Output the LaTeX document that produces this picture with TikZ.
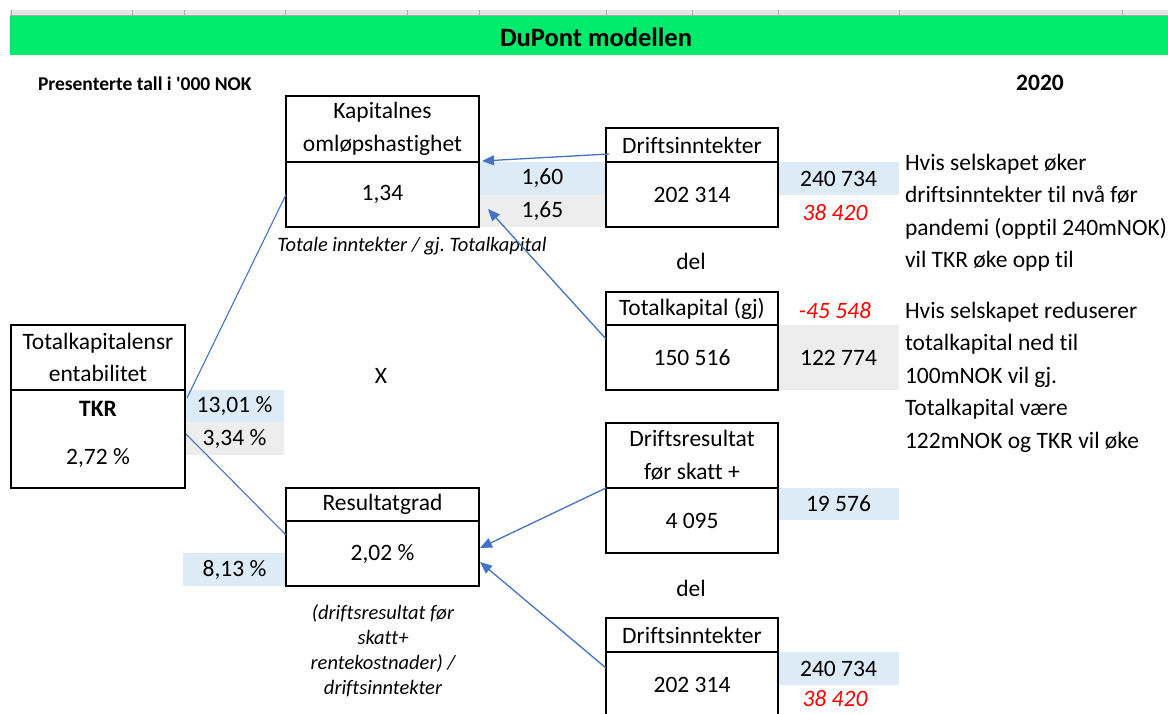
\documentclass[tikz,border=0pt]{standalone}
\usepackage{fontspec}
\setmainfont{Carlito}[Ligatures=NoCommon]
\usetikzlibrary{arrows.meta}
\definecolor{xgreen}{RGB}{0,234,108}
\definecolor{xblue}{RGB}{221,235,247}
\definecolor{xgray}{RGB}{237,237,237}
\definecolor{xarrow}{RGB}{68,114,196}
\definecolor{xred}{RGB}{255,0,0}
\definecolor{xhdr}{RGB}{228,228,228}
\definecolor{xtick}{RGB}{170,170,170}
\newcommand{\bodyfont}{\fontsize{23.5}{32.5}\selectfont}
\newcommand{\notefont}{\fontsize{20.5}{25}\selectfont\itshape}
\frenchspacing
\begin{document}
\begin{tikzpicture}[x=1pt,y=-1pt,
  every node/.style={font=\bodyfont, inner sep=0pt, outer sep=0pt, text=black},
  cellbox/.style={draw=black, line width=1.4pt, anchor=north west, align=center},
  band/.style={fill=#1, anchor=north west},
  rednum/.style={text=xred, font=\bodyfont\itshape},
  note/.style={font=\notefont, align=center},
  arr/.style={draw=xarrow, line width=1.3pt, -{Triangle[length=12pt,width=10pt]}},
  link/.style={draw=xarrow, line width=1.1pt}]
\useasboundingbox (0,0) rectangle (1168,713);
\clip (0,0) rectangle (1168,713);
\fill[white] (0,0) rectangle (1168,713);
% spreadsheet column header strip
\fill[xhdr] (10,10) rectangle (1168,15);
\draw[xtick, line width=0.8pt] (10,15) -- (1168,15);
\foreach \cx in {11,132,184,285,407,479,606,692,778,899,1122}
  \draw[xtick, line width=1pt] (\cx,10) -- (\cx,15);
% title band
\fill[xgreen] (10,15.5) rectangle (1168,54.5);
\node[font=\fontsize{26.5}{30}\selectfont\bfseries] (title) at (596,37) {DuPont modellen};
\node[font=\fontsize{19.5}{22}\selectfont\bfseries, anchor=west] (unit) at (38,84) {Presenterte tall i \textquotesingle000 NOK};
\node[font=\bodyfont\bfseries] (year) at (1040,83) {2020};

% coloured value cells
\node[band=xblue, minimum width=127pt, minimum height=33pt] (b160) at (479,162) {1,60};
\node[band=xgray, minimum width=127pt, minimum height=32pt] (b165) at (479,195) {1,65};
\node[band=xblue, minimum width=121pt, minimum height=33pt] (b240a) at (778,162) {240 734};
\node[band=xgray, minimum width=121pt, minimum height=65pt] (g122) at (778,325) {122 774};
\node[band=xblue, minimum width=99pt, minimum height=32pt] (b1301) at (185,390) {13,01 \%};
\node[band=xgray, minimum width=99pt, minimum height=33pt] (g334) at (185,422) {3,34 \%};
\node[band=xblue, minimum width=103pt, minimum height=33pt] (b813) at (183,553) {8,13 \%};
\node[band=xblue, minimum width=121pt, minimum height=32pt] (b19576) at (778,488) {19 576};
\node[band=xblue, minimum width=121pt, minimum height=33pt] (b240b) at (778,652) {240 734};
\node[rednum] (r38a) at (835,213) {38 420};
\node[rednum] (rneg) at (835,311) {-45 548};
\node[rednum] (r38b) at (835,699) {38 420};

% boxes
\node[cellbox, minimum width=193pt, minimum height=66pt] (kapH) at (286,96) {Kapitalnes\\omløpshastighet};
\node[cellbox, minimum width=193pt, minimum height=65pt] (kapV) at (286,162) {1,34};
\node[cellbox, minimum width=172pt, minimum height=34pt] (diH) at (606,128) {Driftsinntekter};
\node[cellbox, minimum width=172pt, minimum height=65pt] (diV) at (606,162) {202 314};
\node[cellbox, minimum width=172pt, minimum height=33pt] (tkH) at (606,292) {Totalkapital (gj)};
\node[cellbox, minimum width=172pt, minimum height=65pt] (tkV) at (606,325) {150 516};
\node[cellbox, minimum width=174pt, minimum height=65pt] (tkrH) at (11,325) {Totalkapitalensr\\entabilitet};
\node[cellbox, minimum width=174pt, minimum height=98pt] (tkrV) at (11,390) {};
\node (tkrLbl) at (98,409) {\bfseries TKR};
\node (tkrVal) at (98,458) {2,72 \%};
\node[cellbox, minimum width=172pt, minimum height=65pt] (drH) at (606,423) {Driftsresultat\\før skatt +};
\node[cellbox, minimum width=172pt, minimum height=65pt] (drV) at (606,488) {4 095};
\node[cellbox, minimum width=193pt, minimum height=33pt] (rgH) at (286,488) {Resultatgrad};
\node[cellbox, minimum width=193pt, minimum height=65pt] (rgV) at (286,521) {2,02 \%};
\node[cellbox, minimum width=172pt, minimum height=34pt] (di2H) at (606,618) {Driftsinntekter};
\node[cellbox, minimum width=172pt, minimum height=66pt] (di2V) at (606,652) {202 314};

% operators and notes
\node (del1) at (691,261) {del};
\node (del2) at (691,588) {del};
\node (times) at (381,376) {X};
\node[note] (note1) at (412,246) {Totale inntekter / gj. Totalkapital};
\node[note] (note2) at (383,651) {(driftsresultat før\\skatt+\\rentekostnader) /\\driftsinntekter};
\node[align=left, anchor=north west] (txt1) at (905,154) {Hvis selskapet øker\\driftsinntekter til nvå før\\pandemi (opptil 240mNOK)\\vil TKR øke opp til};
\node[align=left, anchor=north west] (txt2) at (905,302) {Hvis selskapet reduserer\\totalkapital ned til\\100mNOK vil gj.\\Totalkapital være\\122mNOK og TKR vil øke};

% connectors
\draw[link] ([xshift=2pt,yshift=-8pt]tkrV.north east) -- (kapV.west);
\draw[link] ([xshift=1pt,yshift=-44pt]tkrV.north east) -- ([yshift=18.5pt]rgV.west);
\draw[arr] ([xshift=3pt,yshift=8pt]diH.south west) -- ([xshift=3pt,yshift=1pt]kapH.south east);
\draw[arr] ([yshift=-14pt]tkV.north west) -- ([xshift=9pt,yshift=-14.5pt]kapV.east);
\draw[arr] (drV.north west) -- ([xshift=1pt,yshift=5.5pt]rgV.east);
\draw[arr] ([yshift=-16pt]di2V.north west) -- ([xshift=1pt,yshift=-8.5pt]rgV.east);
\end{tikzpicture}
\end{document}
